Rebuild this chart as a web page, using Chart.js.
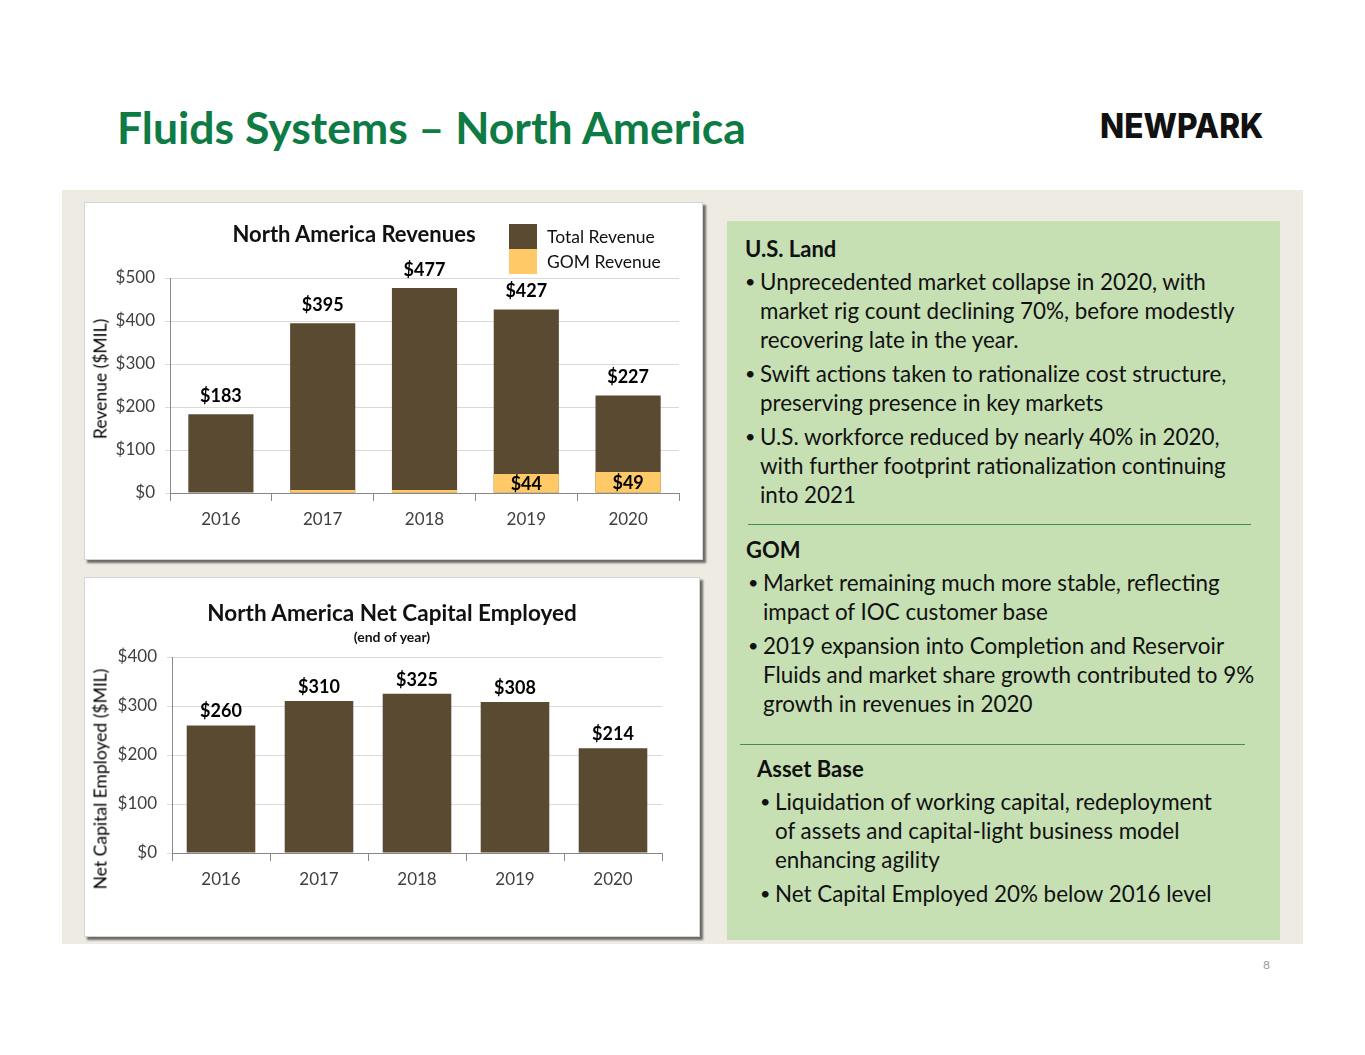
<!DOCTYPE html>
<html lang="en">
<head>
<meta charset="UTF-8">
<title>Fluids Systems – North America</title>
<style>
    body { margin: 0; background: #fff; font-family: Lato, "Open Sans", sans-serif; color: #111; }
    .slide { position: relative; width: 1365px; height: 1055px; overflow: hidden; }
    .title { position: absolute; left: 117px; top: 100px; font-size: 44.5px; font-weight: bold; color: #0e7b45; white-space: nowrap; }
    .logo { position: absolute; left: 1100px; top: 105px; font-family: Inter, sans-serif; font-weight: 800; font-size: 34px; color: #111; transform: scaleX(0.93); transform-origin: left center; }
    .panel { position: absolute; left: 62px; top: 190px; width: 1241px; height: 754px; background: #eeece2; }
    .box { position: absolute; background: #fff; border: 1px solid #d4d4d4; box-shadow: 3px 3px 2px rgba(0,0,0,0.55); }
    canvas { position: absolute; }
    .ctitle { position: absolute; font-weight: bold; white-space: nowrap; transform: translate(-50%, -50%); }
    .ytitle { position: absolute; font-size: 17.5px; white-space: nowrap; color: #000; transform: translate(-50%, -50%) rotate(-90deg); }
    .legend { position: absolute; left: 509px; top: 224px; font-size: 17.5px; }
    .legend div { display: flex; align-items: center; height: 25px; }
    .legend span.sw { width: 28px; height: 25px; margin-right: 10px; }
    .notes { position: absolute; left: 727px; top: 221px; width: 553px; height: 719px; background: #c6e0b4; }
    .sec { position: absolute; font-size: 22.4px; line-height: 29px; white-space: nowrap; }
    .sec h3 { margin: 0 0 4px 0; font-size: 22px; font-weight: bold; }
    .sec ul { list-style: none; margin: 0; padding: 0; }
    .sec li { position: relative; margin-bottom: 5px; }
    .sec li::before { content: "•"; position: absolute; left: -15px; font-size: 18px; }
    .rule { position: absolute; height: 0; border-top: 1.5px solid #3f8f4f; }
    .pageno { position: absolute; left: 1263px; top: 957px; font-size: 12px; color: #999; }
</style>
</head>
<body>
<div class="slide">
    <div class="title">Fluids Systems – North America</div>
    <div class="logo">NEWPARK</div>
    <div class="panel"></div>

    <div class="box" style="left:84px; top:202px; width:617px; height:356px;"></div>
    <canvas id="revChart" width="619" height="358" style="left:84px; top:202px;"></canvas>
    <div class="ctitle" style="left:354px; top:233px; font-size:22px;">North America Revenues</div>
    <div class="ytitle" style="left:100px; top:379px;">Revenue ($MIL)</div>
    <div class="legend" id="revLegend"></div>

    <div class="box" style="left:84px; top:577px; width:614px; height:358px;"></div>
    <canvas id="capChart" width="616" height="360" style="left:84px; top:577px;"></canvas>
    <div class="ctitle" style="left:392px; top:612px; font-size:22.5px;">North America Net Capital Employed</div>
    <div class="ctitle" style="left:392px; top:636px; font-size:14px;">(end of year)</div>
    <div class="ytitle" style="left:100px; top:779px;">Net Capital Employed ($MIL)</div>

    <div class="notes"></div>
    <div class="sec" style="left:745px; top:234px;">
        <h3>U.S. Land</h3>
        <ul style="margin-left:15px;">
            <li>Unprecedented market collapse in 2020, with<br>market rig count declining 70%, before modestly<br>recovering late in the year.</li>
            <li>Swift actions taken to rationalize cost structure,<br>preserving presence in key markets</li>
            <li>U.S. workforce reduced by nearly 40% in 2020,<br>with further footprint rationalization continuing<br>into 2021</li>
        </ul>
    </div>
    <div class="rule" style="left:748px; top:524px; width:503px;"></div>
    <div class="sec" style="left:746px; top:535px;">
        <h3>GOM</h3>
        <ul style="margin-left:17px;">
            <li>Market remaining much more stable, reflecting<br>impact of IOC customer base</li>
            <li>2019 expansion into Completion and Reservoir<br>Fluids and market share growth contributed to 9%<br>growth in revenues in 2020</li>
        </ul>
    </div>
    <div class="rule" style="left:740px; top:744px; width:505px;"></div>
    <div class="sec" style="left:757px; top:754px;">
        <h3>Asset Base</h3>
        <ul style="margin-left:18px;">
            <li>Liquidation of working capital, redeployment<br>of assets and capital-light business model<br>enhancing agility</li>
            <li>Net Capital Employed 20% below 2016 level</li>
        </ul>
    </div>
    <div class="pageno">8</div>
</div>

<script src="https://cdn.jsdelivr.net/npm/chart.js"></script>
<script>
    // data ($ millions)
    const years = ['2016', '2017', '2018', '2019', '2020'];
    const totalRevenue = [183, 395, 477, 427, 227];
    const gomRevenue = [0, 7, 7, 44, 49];
    const netCapital = [260, 310, 325, 308, 214];
    const seriesNames = ['Total Revenue', 'GOM Revenue'];

    const brown = '#5b4a32';
    const gold = '#fec966';

    Chart.defaults.font.family = 'Lato, "Open Sans", sans-serif';
    Chart.defaults.color = '#404040';

    // bold $ labels: above the bar or centered inside it
    const valueLabels = {
        id: 'valueLabels',
        afterDatasetsDraw(chart, args, opts) {
            const ctx = chart.ctx;
            ctx.save();
            ctx.font = 'bold 18px Lato, "Open Sans", sans-serif';
            ctx.fillStyle = '#000';
            ctx.textAlign = 'center';
            ctx.textBaseline = 'middle';
            chart.data.datasets.forEach((ds, di) => {
                chart.getDatasetMeta(di).data.forEach((bar, i) => {
                    const v = ds.data[i];
                    if (ds.labelPos === 'top') {
                        ctx.fillText('$' + v, bar.x, bar.y - opts.offset);
                    } else if (ds.labelPos === 'inside' && v >= 20) {
                        ctx.fillText('$' + v, bar.x, (bar.y + bar.base) / 2 + 1);
                    }
                });
            });
            ctx.restore();
        }
    };

    function axes(max, yWidth, xHeight) {
        return {
            x: {
                grid: { drawOnChartArea: false, offset: true, tickLength: 8, color: '#888' },
                border: { color: '#888' },
                ticks: { padding: 8, font: { size: 17 } },
                afterFit: s => { s.height = xHeight; }
            },
            y: {
                min: 0, max: max,
                ticks: { stepSize: 100, padding: 10, font: { size: 17 }, callback: v => '$' + v },
                grid: { color: '#d9d9d9', tickLength: 5 },
                border: { color: '#888' },
                afterFit: s => { s.width = yWidth; }
            }
        };
    }

    new Chart(document.getElementById('revChart'), {
        type: 'bar',
        data: {
            labels: years,
            datasets: [
                { label: seriesNames[1], data: gomRevenue, backgroundColor: gold, labelPos: 'inside' },
                { label: seriesNames[0], data: totalRevenue, backgroundColor: brown, labelPos: 'top' }
            ]
        },
        options: {
            responsive: false,
            animation: false,
            datasets: { bar: { grouped: false, categoryPercentage: 1, barPercentage: 0.64 } },
            layout: { padding: { top: 76, right: 24, left: 0, bottom: 0 } },
            scales: axes(500, 86, 67),
            plugins: { legend: { display: false }, tooltip: { enabled: false }, valueLabels: { offset: 18 } }
        },
        plugins: [valueLabels]
    });

    new Chart(document.getElementById('capChart'), {
        type: 'bar',
        data: {
            labels: years,
            datasets: [
                { label: 'Net Capital Employed', data: netCapital, backgroundColor: brown, labelPos: 'top' }
            ]
        },
        options: {
            responsive: false,
            animation: false,
            datasets: { bar: { categoryPercentage: 1, barPercentage: 0.70 } },
            layout: { padding: { top: 80, right: 38, left: 0, bottom: 0 } },
            scales: axes(400, 88, 84),
            plugins: { legend: { display: false }, tooltip: { enabled: false }, valueLabels: { offset: 14 } }
        },
        plugins: [valueLabels]
    });

    // legend for the revenue chart, in the slide's order
    const legendEl = document.getElementById('revLegend');
    [[seriesNames[0], brown], [seriesNames[1], gold]].forEach(([name, col]) => {
        const row = document.createElement('div');
        row.innerHTML = `<span class="sw" style="background:${col}"></span>${name}`;
        legendEl.appendChild(row);
    });
</script>
</body>
</html>
